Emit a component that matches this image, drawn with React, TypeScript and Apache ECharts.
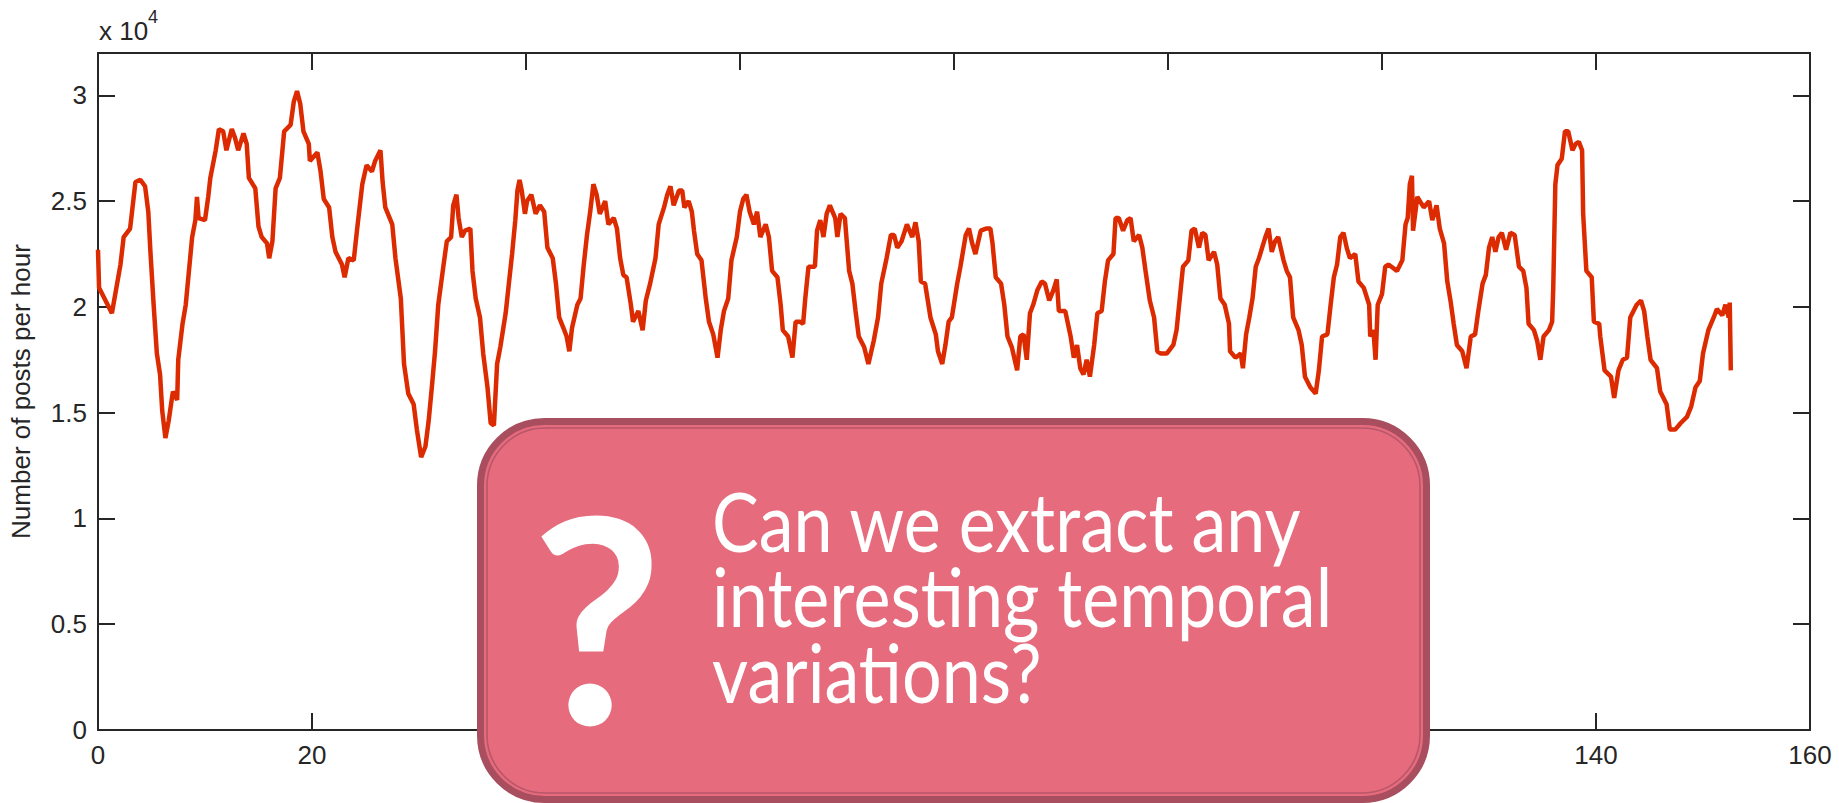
import React, { useEffect, useRef } from "react";
import * as echarts from "echarts";

// time (x axis) and posts per hour in units of 10^4 (y axis)
const hours = [
  0.0, 0.1, 1.3, 2.1, 2.4, 3.0, 3.5, 3.96, 4.4, 4.7, 4.9, 5.2, 5.5, 5.8, 6.0, 6.3, 6.6, 7.0, 7.4, 7.5,
  7.9, 8.2, 8.5, 8.8, 9.1, 9.25, 9.4, 10.0, 10.3, 10.5, 11.0, 11.3, 11.7, 12.0, 12.5, 12.8, 13.1, 13.6, 13.9, 14.1,
  14.7, 15.0, 15.3, 15.8, 16.0, 16.3, 16.6, 17.0, 17.4, 18.0, 18.3, 18.6, 18.9, 19.2, 19.7, 19.8, 20.5, 20.8, 21.1, 21.6,
  21.9, 22.2, 22.8, 23.05, 23.4, 23.9, 24.2, 24.7, 25.1, 25.6, 25.9, 26.4, 26.6, 26.85, 27.5, 27.8, 28.3, 28.6, 29.0, 29.5,
  29.8, 30.2, 30.6, 30.9, 31.2, 31.5, 31.8, 32.3, 32.6, 33.0, 33.2, 33.5, 33.7, 34.0, 34.3, 34.8, 35.0, 35.3, 35.7, 36.0,
  36.4, 36.7, 37.0, 37.3, 37.6, 38.1, 38.4, 38.7, 39.0, 39.2, 39.4, 39.6, 39.9, 40.1, 40.5, 40.9, 41.3, 41.7, 42.0, 42.5,
  42.8, 43.1, 43.5, 43.8, 44.05, 44.3, 44.8, 45.1, 45.4, 45.7, 46.0, 46.3, 46.6, 46.9, 47.4, 47.7, 48.2, 48.5, 48.8, 49.1,
  49.4, 49.8, 50.0, 50.5, 50.9, 51.2, 51.6, 52.1, 52.4, 52.9, 53.2, 53.5, 53.8, 54.3, 54.6, 54.8, 55.2, 55.5, 55.7, 56.0,
  56.4, 56.8, 57.1, 57.5, 57.9, 58.2, 58.5, 58.9, 59.2, 59.7, 60.0, 60.3, 60.6, 60.9, 61.3, 61.6, 61.9, 62.4, 62.7, 63.0,
  63.5, 63.8, 64.0, 64.5, 64.9, 65.2, 65.6, 65.9, 66.1, 66.4, 67.0, 67.2, 67.5, 67.8, 68.1, 68.4, 68.9, 69.1, 69.4, 69.8,
  70.2, 70.5, 70.8, 71.1, 71.6, 72.0, 72.5, 72.9, 73.2, 73.7, 74.1, 74.4, 74.7, 75.1, 75.6, 76.1, 76.4, 76.7, 76.9, 77.3,
  77.8, 78.3, 78.5, 78.9, 79.2, 79.5, 79.8, 80.3, 80.6, 81.1, 81.4, 81.7, 82.0, 82.5, 83.0, 83.4, 83.6, 83.9, 84.4, 84.7,
  85.0, 85.4, 85.9, 86.2, 86.5, 86.8, 87.1, 87.4, 87.8, 88.2, 88.5, 88.9, 89.3, 89.6, 89.8, 90.4, 90.9, 91.2, 91.5, 91.8,
  92.1, 92.4, 92.7, 93.1, 93.4, 93.8, 94.1, 94.4, 94.9, 95.1, 95.4, 95.8, 96.2, 96.5, 96.8, 97.3, 97.6, 97.9, 98.3, 98.7,
  99.0, 99.3, 99.9, 100.5, 100.8, 101.1, 101.4, 101.9, 102.2, 102.5, 102.9, 103.2, 103.5, 103.8, 104.3, 104.6, 104.9, 105.3, 105.7, 105.8,
  106.3, 106.8, 107.0, 107.3, 107.6, 107.9, 108.2, 108.5, 108.8, 109.1, 109.4, 109.7, 110.0, 110.3, 110.8, 111.1, 111.4, 111.7, 112.2, 112.5,
  112.8, 113.3, 113.8, 114.1, 114.4, 114.9, 115.2, 115.5, 115.8, 116.1, 116.4, 116.7, 117.0, 117.5, 117.8, 118.3, 118.8, 118.9, 119.2, 119.4,
  119.6, 120.0, 120.3, 120.6, 121.4, 121.9, 122.2, 122.4, 122.6, 122.8, 122.9, 123.3, 123.9, 124.4, 124.7, 125.1, 125.4, 125.8, 126.1, 126.4,
  126.7, 127.0, 127.5, 127.9, 128.3, 128.7, 129.0, 129.4, 129.7, 130.0, 130.3, 130.6, 130.9, 131.2, 131.6, 132.0, 132.4, 132.8, 133.2, 133.5,
  133.7, 134.2, 134.5, 134.8, 135.1, 135.6, 135.9, 136.0, 136.2, 136.4, 136.8, 137.1, 137.4, 137.8, 138.1, 138.4, 138.7, 138.8, 139.1, 139.6,
  139.8, 140.3, 140.4, 140.8, 141.4, 141.7, 142.1, 142.5, 142.9, 143.2, 143.8, 144.2, 144.5, 144.8, 145.1, 145.7, 146.0, 146.6, 146.9, 147.4,
  147.9, 148.5, 148.9, 149.3, 149.7, 150.0, 150.5, 151.0, 151.3, 151.8, 152.1, 152.4, 152.5, 152.6,
];

const postsE4 = [
  2.27, 2.09, 1.97, 2.2, 2.33, 2.37, 2.59, 2.6, 2.57, 2.45, 2.26, 2.01, 1.78, 1.68, 1.51, 1.38, 1.46, 1.6, 1.56, 1.75,
  1.92, 2.01, 2.17, 2.33, 2.41, 2.52, 2.42, 2.41, 2.52, 2.61, 2.74, 2.84, 2.83, 2.74, 2.84, 2.8, 2.74, 2.82, 2.77, 2.61,
  2.56, 2.38, 2.33, 2.3, 2.23, 2.31, 2.56, 2.61, 2.83, 2.86, 2.97, 3.02, 2.96, 2.83, 2.77, 2.69, 2.73, 2.64, 2.51, 2.47,
  2.33, 2.26, 2.2, 2.14, 2.23, 2.22, 2.36, 2.58, 2.67, 2.64, 2.69, 2.74, 2.59, 2.47, 2.39, 2.23, 2.04, 1.73, 1.59, 1.54,
  1.42, 1.29, 1.34, 1.46, 1.62, 1.79, 2.01, 2.2, 2.31, 2.33, 2.48, 2.53, 2.42, 2.33, 2.36, 2.37, 2.17, 2.04, 1.95, 1.78,
  1.62, 1.45, 1.44, 1.73, 1.81, 1.97, 2.11, 2.25, 2.41, 2.55, 2.6, 2.55, 2.44, 2.5, 2.53, 2.44, 2.48, 2.45, 2.28, 2.23,
  2.11, 1.95, 1.9, 1.86, 1.79, 1.9, 2.01, 2.04, 2.2, 2.34, 2.45, 2.58, 2.53, 2.44, 2.5, 2.39, 2.42, 2.37, 2.23, 2.15,
  2.14, 2.01, 1.93, 1.98, 1.89, 2.03, 2.11, 2.23, 2.39, 2.47, 2.53, 2.57, 2.48, 2.55, 2.55, 2.47, 2.5, 2.45, 2.36, 2.25,
  2.22, 2.04, 1.93, 1.87, 1.76, 1.89, 1.98, 2.04, 2.22, 2.33, 2.45, 2.51, 2.53, 2.45, 2.39, 2.45, 2.33, 2.39, 2.33, 2.17,
  2.14, 2.01, 1.89, 1.86, 1.76, 1.93, 1.93, 1.92, 2.04, 2.19, 2.19, 2.36, 2.41, 2.33, 2.44, 2.48, 2.42, 2.33, 2.44, 2.42,
  2.17, 2.11, 1.98, 1.86, 1.81, 1.73, 1.84, 1.95, 2.11, 2.23, 2.34, 2.34, 2.28, 2.31, 2.39, 2.33, 2.4, 2.31, 2.12, 2.11,
  1.95, 1.87, 1.79, 1.73, 1.82, 1.93, 1.95, 2.11, 2.19, 2.34, 2.37, 2.3, 2.25, 2.36, 2.37, 2.37, 2.3, 2.14, 2.11, 2.01,
  1.86, 1.81, 1.7, 1.86, 1.87, 1.75, 1.97, 2.01, 2.08, 2.12, 2.11, 2.03, 2.08, 2.13, 1.98, 1.98, 1.86, 1.76, 1.82, 1.71,
  1.68, 1.75, 1.67, 1.82, 1.97, 1.98, 2.12, 2.22, 2.25, 2.42, 2.42, 2.36, 2.41, 2.42, 2.31, 2.34, 2.28, 2.17, 2.03, 1.95,
  1.79, 1.78, 1.78, 1.82, 1.89, 2.04, 2.19, 2.22, 2.36, 2.37, 2.28, 2.35, 2.34, 2.22, 2.26, 2.2, 2.04, 2.01, 1.92, 1.79,
  1.76, 1.78, 1.71, 1.87, 1.95, 2.04, 2.19, 2.23, 2.28, 2.33, 2.37, 2.26, 2.31, 2.33, 2.22, 2.17, 2.14, 1.95, 1.89, 1.82,
  1.67, 1.62, 1.59, 1.7, 1.86, 1.87, 2.01, 2.14, 2.2, 2.33, 2.35, 2.28, 2.23, 2.25, 2.12, 2.09, 2.01, 1.86, 1.89, 1.75,
  2.01, 2.06, 2.19, 2.2, 2.17, 2.22, 2.39, 2.42, 2.58, 2.62, 2.36, 2.52, 2.47, 2.5, 2.41, 2.48, 2.37, 2.3, 2.12, 2.03,
  1.92, 1.82, 1.79, 1.71, 1.86, 1.87, 1.98, 2.11, 2.15, 2.28, 2.33, 2.26, 2.33, 2.35, 2.27, 2.35, 2.34, 2.19, 2.17, 2.09,
  1.92, 1.89, 1.84, 1.75, 1.86, 1.89, 1.93, 2.08, 2.58, 2.67, 2.7, 2.83, 2.83, 2.74, 2.77, 2.78, 2.74, 2.44, 2.17, 2.14,
  1.93, 1.92, 1.86, 1.7, 1.67, 1.57, 1.7, 1.75, 1.76, 1.95, 2.01, 2.03, 1.98, 1.86, 1.75, 1.71, 1.6, 1.54, 1.42, 1.42,
  1.45, 1.48, 1.53, 1.62, 1.65, 1.78, 1.89, 1.95, 1.99, 1.96, 2.01, 1.95, 2.02, 1.7,
];

const X_MIN = 0;
const X_MAX = 160;
const X_STEP = 20;
// x tick labels that the callout box covers in the reference
const hiddenXLabels = [40, 60, 80, 100, 120];
const Y_MIN = 0;
const Y_MAX = 3.2;
const Y_STEP = 0.5;

const yAxisTitle = "Number of posts per hour";
const scaleText = "x 10";
const scaleExp = "4";
const questionMark = "?";
const calloutLines = ["Can we extract any", "interesting temporal", "variations?"];

const AXIS_COLOR = "#262626";
const LINE_COLOR = "#dc2b00";
const BOX_FILL = "#e66b7d";
const BOX_EDGE = "#a94e5e";

export default function App() {
  const ref = useRef<HTMLDivElement>(null);

  useEffect(() => {
    if (!ref.current) return;
    const chart = echarts.init(ref.current, undefined, { renderer: "svg" });

    const axisLine = { show: true, onZero: false, lineStyle: { color: AXIS_COLOR, width: 2 } };
    const axisTick = { show: true, inside: true, length: 17, lineStyle: { color: AXIS_COLOR, width: 2 } };
    const labelFont = { fontFamily: "Liberation Sans", fontSize: 26, color: AXIS_COLOR };

    const yFormatter = (v: number) => (Math.abs(v - Y_MAX) < 1e-6 ? "" : String(v));
    const xFormatter = (v: number) => (hiddenXLabels.includes(v) ? "" : String(v));

    const Z = 1000;

    chart.setOption({
      animation: false,
      backgroundColor: "#ffffff",
      grid: { left: 98, right: 29, top: 53, bottom: 73, containLabel: false },
      xAxis: [
        {
          type: "value",
          position: "bottom",
          min: X_MIN,
          max: X_MAX,
          interval: X_STEP,
          axisLine,
          axisTick,
          splitLine: { show: false },
          axisLabel: { margin: 12, formatter: xFormatter, ...labelFont },
        },
        {
          type: "value",
          position: "top",
          min: X_MIN,
          max: X_MAX,
          interval: X_STEP,
          axisLine,
          axisTick,
          splitLine: { show: false },
          axisLabel: { show: false },
        },
      ],
      yAxis: [
        {
          type: "value",
          position: "left",
          min: Y_MIN,
          max: Y_MAX,
          interval: Y_STEP,
          axisLine,
          axisTick,
          splitLine: { show: false },
          axisLabel: { margin: 11, formatter: yFormatter, ...labelFont },
          name: yAxisTitle,
          nameLocation: "middle",
          nameRotate: 90,
          nameGap: 64,
          nameTextStyle: { ...labelFont },
        },
        {
          type: "value",
          position: "right",
          min: Y_MIN,
          max: Y_MAX,
          interval: Y_STEP,
          axisLine,
          axisTick,
          splitLine: { show: false },
          axisLabel: { show: false },
        },
      ],
      series: [
        {
          type: "line",
          xAxisIndex: 0,
          yAxisIndex: 0,
          data: hours.map((h, i) => [h, postsE4[i]]),
          symbol: "none",
          showSymbol: false,
          lineStyle: { color: LINE_COLOR, width: 4.5 },
          silent: true,
        },
      ],
      graphic: [
        {
          type: "text",
          x: 99,
          y: 31,
          style: {
            text: scaleText,
            fontFamily: "Liberation Sans",
            fontSize: 26,
            fill: AXIS_COLOR,
            align: "left",
            verticalAlign: "middle",
          },
        },
        {
          type: "text",
          x: 148,
          y: 17,
          style: {
            text: scaleExp,
            fontFamily: "Liberation Sans",
            fontSize: 18,
            fill: AXIS_COLOR,
            align: "left",
            verticalAlign: "middle",
          },
        },
        {
          type: "rect",
          z: Z,
          shape: { x: 480.5, y: 421.5, width: 946, height: 378, r: 64 },
          style: { fill: BOX_FILL, stroke: BOX_EDGE, lineWidth: 7 },
        },
        {
          type: "rect",
          z: Z + 1,
          shape: { x: 487, y: 428, width: 933, height: 365, r: 58 },
          style: { fill: "none", stroke: "#b8566a", lineWidth: 1.6 },
        },
        {
          type: "text",
          z: Z + 2,
          x: 597,
          y: 614,
          scaleX: 1.0,
          style: {
            text: questionMark,
            fontFamily: "Lato",
            fontWeight: "bold",
            fontSize: 286,
            fill: "#ffffff",
            align: "center",
            verticalAlign: "middle",
          },
        },
        ...calloutLines.map((t, i) => ({
          type: "text",
          z: Z + 2,
          x: 712,
          y: 520 + i * 75.5,
          scaleX: 0.865,
          style: {
            text: t,
            fontFamily: "Lato",
            fontSize: 81,
            fill: "#ffffff",
            align: "left",
            verticalAlign: "middle",
          },
        })),
      ],
    });

    return () => chart.dispose();
  }, []);

  return (
    <div
      ref={ref}
      style={{ position: "absolute", left: 0, top: 0, width: 1839, height: 803 }}
    />
  );
}
